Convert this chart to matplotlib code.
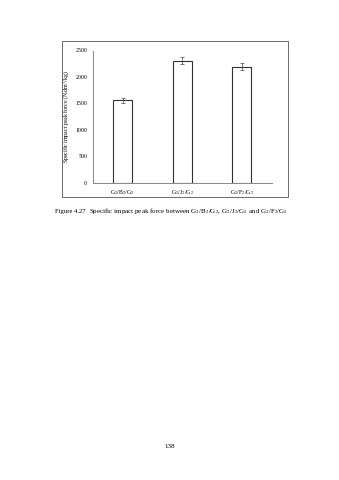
import matplotlib
matplotlib.use("Agg")
import matplotlib.pyplot as plt
from matplotlib.patches import Rectangle

categories = ["G$_2$/B$_2$/G$_2$", "G$_2$/J$_2$/G$_2$", "G$_2$/F$_2$/G$_2$"]
values = [1560, 2310, 2195]
errors = [50, 65, 65]
yticks = [0, 500, 1000, 1500, 2000, 2500]

plt.rcParams["font.family"] = ["Liberation Serif", "DejaVu Serif"]
plt.rcParams["mathtext.fontset"] = "stix"

W, H = 339, 480
fig = plt.figure(figsize=(W / 100, H / 100), dpi=100)
fig.patch.set_facecolor("white")

# chart frame
fig.patches.append(Rectangle((62 / W, 1 - 197 / H), (288 - 62) / W, (197 - 41) / H,
                             transform=fig.transFigure, fill=False,
                             edgecolor="#555555", linewidth=0.6))

ax = fig.add_axes([92.7 / W, 1 - 182.7 / H, (271.7 - 92.7) / W, (182.7 - 50.5) / H])
x = range(len(categories))
ax.bar(x, values, width=0.32, color="white", edgecolor="#333333", linewidth=0.8,
       yerr=errors, error_kw=dict(ecolor="#444444", elinewidth=0.5, capsize=1.5, capthick=0.5))
ax.set_xlim(-0.5, 2.5)
ax.set_ylim(0, 2500)
ax.set_yticks(yticks)
ax.set_yticklabels([str(t) for t in yticks], fontsize=4.2)
ax.set_xticks(list(x))
ax.set_xticklabels(categories, fontsize=4.2)
ax.tick_params(length=0, pad=4)
for s in ["top", "right"]:
    ax.spines[s].set_visible(False)
for s in ["left", "bottom"]:
    ax.spines[s].set_color("#888888")
    ax.spines[s].set_linewidth(0.7)
ax.set_ylabel("Specific impact peak force (N.dm$^3$/kg)", fontsize=4.2, labelpad=2)

fig.text(55 / W, 1 - 211 / H, "Figure 4.27", fontsize=4.8, va="center", ha="left")
fig.text(89 / W, 1 - 211 / H,
         "Specific impact peak force between G$_2$/B$_2$/G$_2$, G$_2$/J$_2$/G$_2$ and G$_2$/F$_2$/G$_2$",
         fontsize=5.0, va="center", ha="left")
fig.text(170 / W, 1 - 447 / H, "138", fontsize=5, va="center", ha="center")

fig.savefig("out.png", dpi=100, facecolor="white")
